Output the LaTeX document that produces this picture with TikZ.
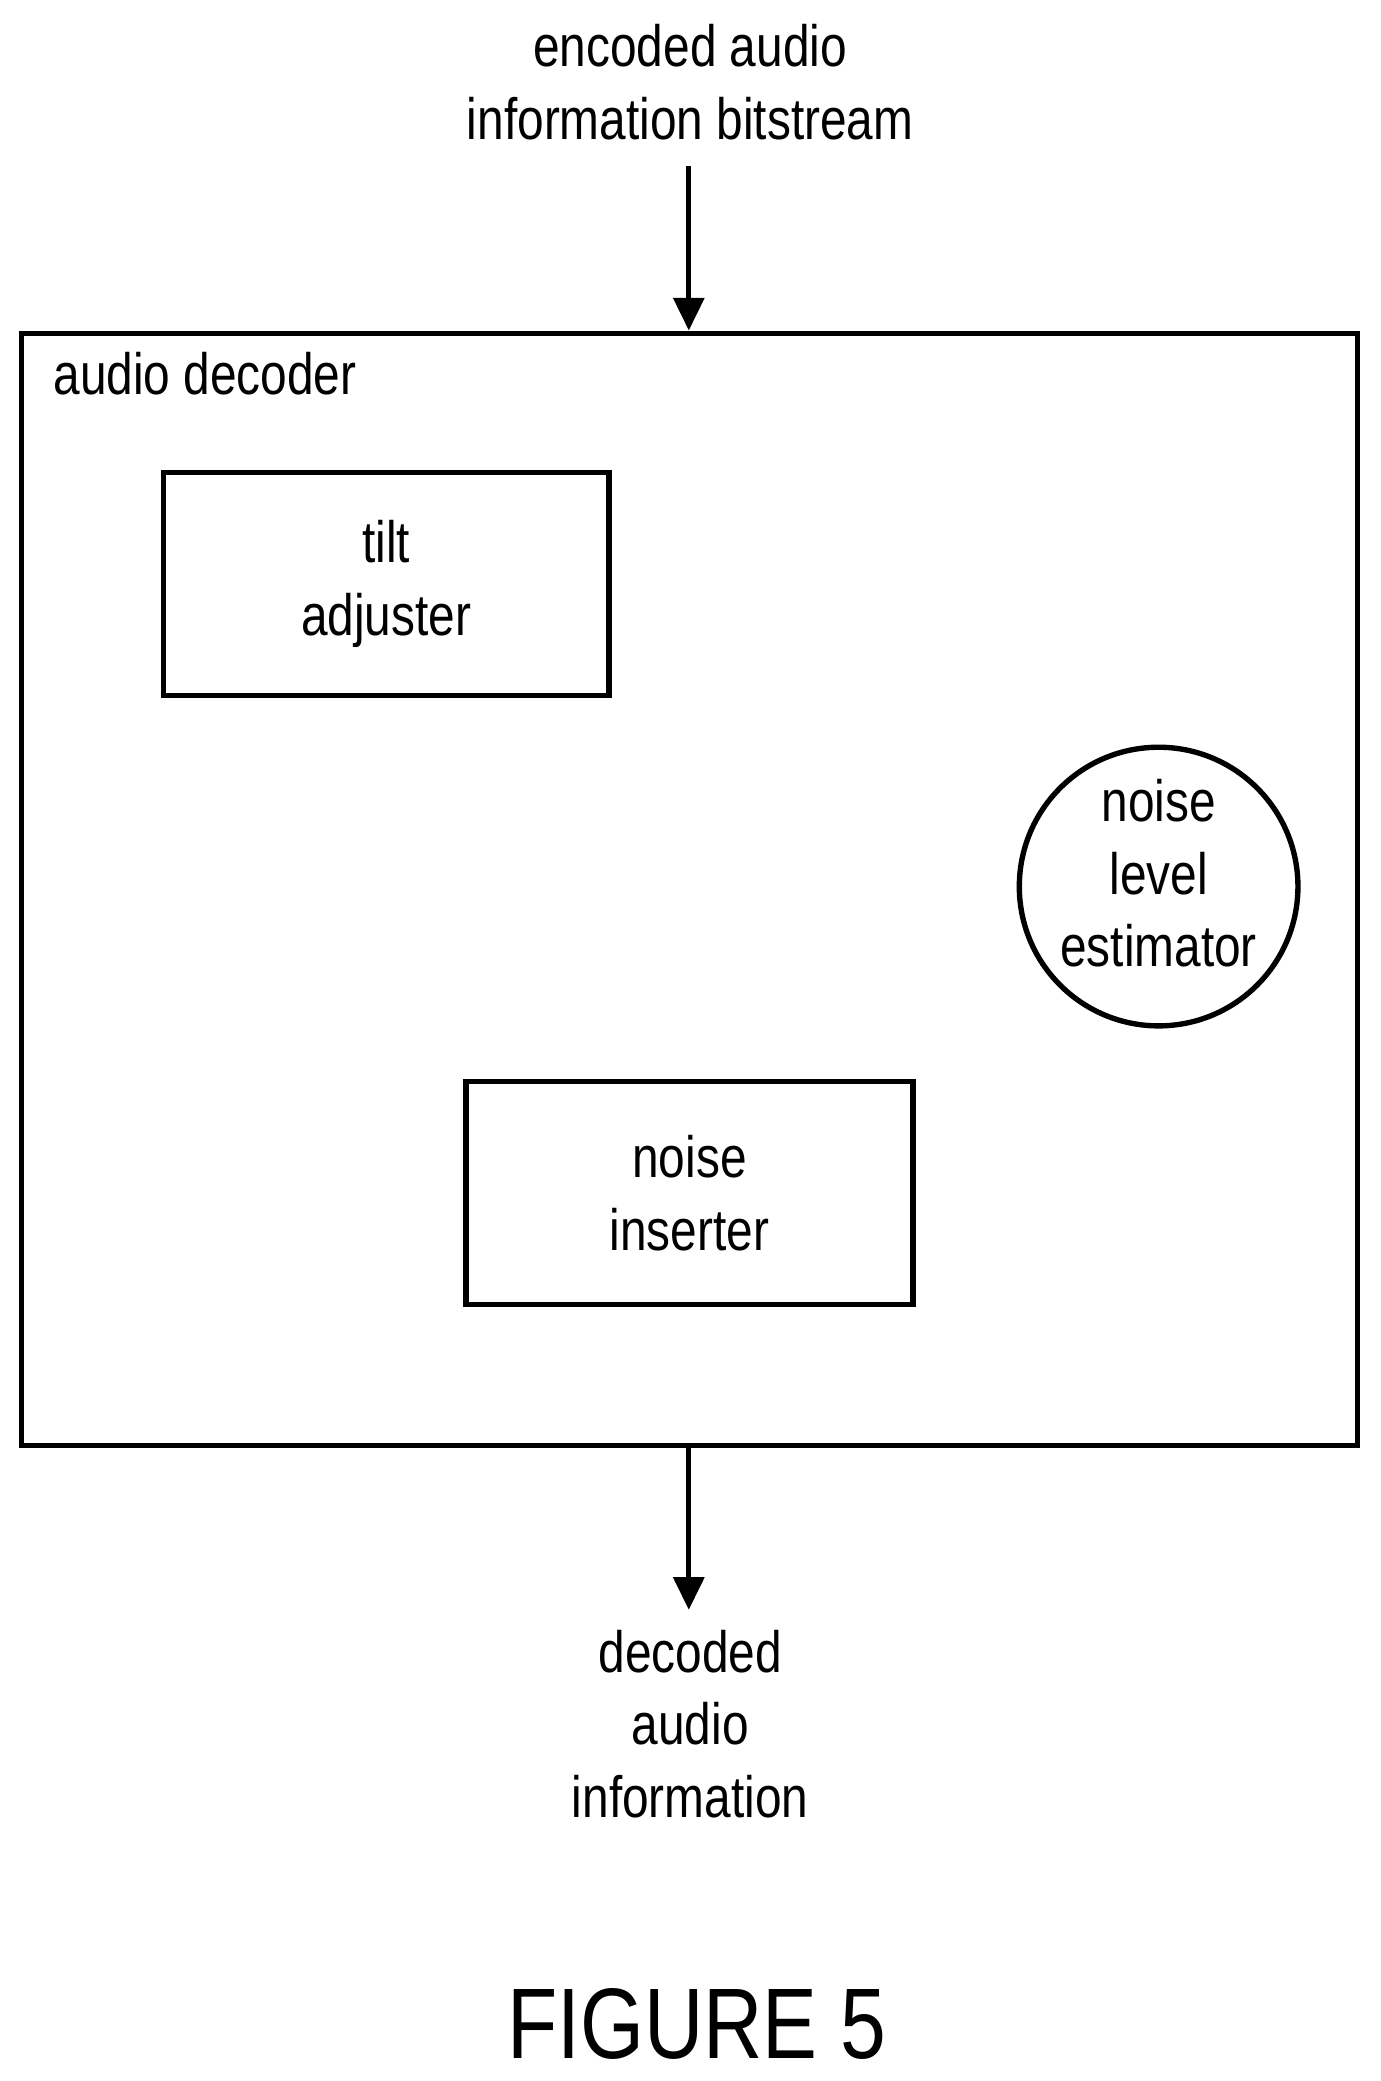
\documentclass[tikz,border=0pt]{standalone}
\usepackage{fontspec}
\setmainfont[FakeStretch=0.82]{Liberation Sans}
\usetikzlibrary{arrows.meta}
\tikzset{font=\fontsize{25}{31}\selectfont}
\tikzstyle{blk}=[draw,line width=2.3pt,inner sep=0pt]
\tikzstyle{lbl}=[align=center,inner sep=0pt]
\tikzstyle{sig}=[line width=2.3pt,-{Triangle[length=14pt,width=13pt]}]
\begin{document}
\begin{tikzpicture}[x=0.02cm,y=-0.02cm]
	\useasboundingbox (0,0) rectangle (1040,1568);
	% nodes
	\node [style=lbl] (in) at (520,62) {encoded audio\\information bitstream};
	\node [style=blk,minimum width=20.14cm,minimum height=16.76cm] (dec) at (519.5,670) {};
	\node [style=lbl,anchor=north west] (declbl) at (40,265) {audio decoder};
	\node [style=blk,minimum width=6.72cm,minimum height=3.36cm,lbl] (tilt) at (291,440) {tilt\\adjuster};
	\node [style=blk,circle,minimum size=4.2cm] (est) at (873,668) {};
	\node [style=lbl] (estlbl) at (873,658) {noise\\level\\estimator};
	\node [style=blk,minimum width=6.74cm,minimum height=3.36cm,lbl] (ins) at (519.5,899) {noise\\inserter};
	\node [style=lbl] (out) at (520,1299) {decoded\\audio\\information};
	\node [lbl,font=\fontsize{43}{50}\selectfont] (fig) at (525,1525) {FIGURE 5};
	\coordinate (inend) at (519,125);
	\coordinate (outend) at (519,1213);
	% connectors
	\draw [style=sig] (inend) to (dec.north -| inend);
	\draw [style=sig] (dec.south -| outend) to (outend);
\end{tikzpicture}
\end{document}
